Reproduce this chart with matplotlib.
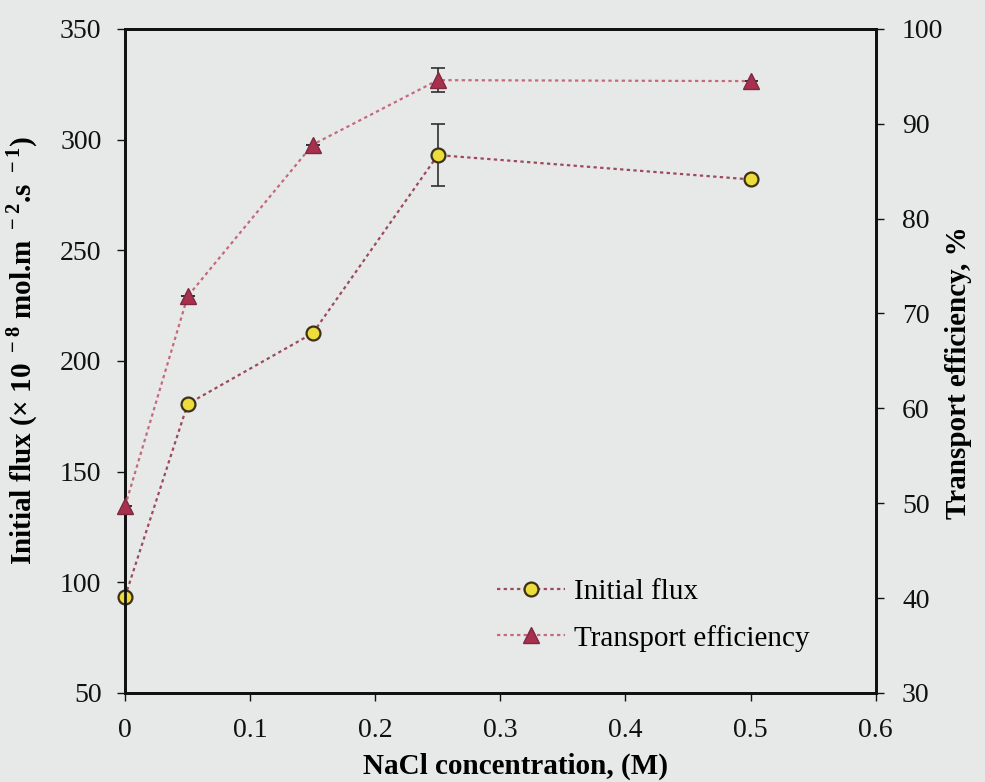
import matplotlib
matplotlib.use("Agg")
import matplotlib.pyplot as plt

# Data
nacl = [0, 0.05, 0.15, 0.25, 0.5]
flux = [93.5, 180.5, 212.5, 293, 282]
flux_err = [0, 0, 0, 14, 0]
efficiency = [49.7, 71.8, 87.8, 94.6, 94.5]
eff_err = [0, 0, 0, 1.3, 0]

x_ticks = [0, 0.1, 0.2, 0.3, 0.4, 0.5, 0.6]
x_tick_labels = ["0", "0.1", "0.2", "0.3", "0.4", "0.5", "0.6"]
left_ticks = [50, 100, 150, 200, 250, 300, 350]
right_ticks = [30, 40, 50, 60, 70, 80, 90, 100]

bg = "#e7e9e9"
plt.rcParams['font.family'] = ['Liberation Serif', 'DejaVu Serif']
plt.rcParams['mathtext.fontset'] = 'custom'
plt.rcParams['mathtext.rm'] = 'Liberation Serif'
plt.rcParams['mathtext.bf'] = 'Liberation Serif:bold'

fig = plt.figure(figsize=(9.85, 7.82), dpi=100, facecolor=bg)
ax = fig.add_axes([0.127, 0.114, 0.762, 0.849], facecolor=bg)
ax2 = ax.twinx()

flux_line_color = "#9c4a5c"
eff_line_color = "#c46a7c"

ax.errorbar(nacl, flux, yerr=flux_err, fmt='none', ecolor='#303030',
            elinewidth=1.2, capsize=5, capthick=1.2, zorder=2)
l1, = ax.plot(nacl, flux, linestyle=(0, (1.5, 1.5)), color=flux_line_color, lw=1.6,
              marker='o', markersize=10, markerfacecolor='#ecdc3c',
              markeredgecolor='#3c3018', markeredgewidth=1.6, zorder=3,
              clip_on=False)

ax2.errorbar(nacl, efficiency, yerr=eff_err, fmt='none', ecolor='#303030',
             elinewidth=1.2, capsize=5, capthick=1.2, zorder=2)
l2, = ax2.plot(nacl, efficiency, linestyle=(0, (1.5, 1.5)), color=eff_line_color, lw=1.6,
               marker='^', markersize=11, markerfacecolor='#a8304e',
               markeredgecolor='#7c2a40', markeredgewidth=1.0, zorder=3,
               clip_on=False)

ax.set_xlim(0, 0.6)
ax.set_ylim(50, 350)
ax2.set_ylim(30, 100)
ax.set_xticks(x_ticks)
ax.set_xticklabels(x_tick_labels)
ax.set_yticks(left_ticks)
ax2.set_yticks(right_ticks)

for a in (ax, ax2):
    for s in a.spines.values():
        s.set_linewidth(2.0)
        s.set_color('#111111')
    a.tick_params(labelsize=20, length=6, width=1, direction='out', colors='#111111')
ax.tick_params(axis='x', pad=12)
ax.tick_params(axis='y', pad=11)
ax2.tick_params(axis='y', pad=13)

ax.set_xlabel("NaCl concentration, (M)", fontsize=21, fontweight='bold')
ax.xaxis.set_label_coords(0.52, -0.09)
ax.set_ylabel(r"Initial flux (× 10$^{\mathregular{\ -8}}$ mol.m$^{\mathregular{\ -2}}$.s$^{\mathregular{\ -1}}$)",
              fontsize=21, fontweight='bold')
ax.yaxis.set_label_coords(-0.113, 0.515)
ax2.set_ylabel("Transport efficiency, %", fontsize=21, fontweight='bold')
ax2.yaxis.set_label_coords(1.093, 0.482)

handles = [l1, l2]
labels = ["Initial flux", "Transport efficiency"]
leg = ax.legend(handles, labels, loc='upper left', bbox_to_anchor=(0.495, 0.172),
                frameon=False, fontsize=21, handlelength=2.35, handletextpad=0.3,
                labelspacing=0.67, borderpad=0, borderaxespad=0)

fig.savefig("out.png", dpi=100, facecolor=bg)
